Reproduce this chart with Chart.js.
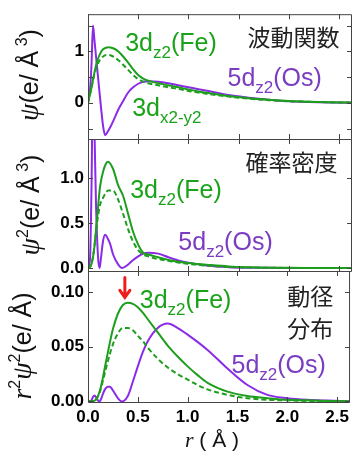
<!DOCTYPE html>
<html>
<head>
<meta charset="utf-8">
<script src="https://cdn.jsdelivr.net/npm/chart.js@4.4.1/dist/chart.umd.min.js"></script>
<style>
  body { margin: 0; background: #fff; }
  #wrap { position: relative; width: 354px; height: 454px; }
  #wrap canvas { position: absolute; left: 0; top: 0; }
</style>
</head>
<body>
<div id="wrap">
  <canvas id="cWave" width="354" height="454"></canvas>
  <canvas id="cProb" width="354" height="454"></canvas>
  <canvas id="cRad" width="354" height="454"></canvas>
</div>
<script>
// r grids (Å)
const rFe = [0, 0.03, 0.06, 0.09, 0.12, 0.15, 0.18, 0.2, 0.25, 0.3, 0.35, 0.4, 0.45, 0.5, 0.55, 0.6, 0.7, 0.8, 0.9, 1.0, 1.1, 1.2, 1.4, 1.6, 1.8, 2.0, 2.2, 2.4, 2.7];
const rOs = [0, 0.02, 0.035, 0.05, 0.065, 0.08, 0.1, 0.115, 0.13, 0.15, 0.17, 0.2, 0.22, 0.25, 0.3, 0.34, 0.4, 0.45, 0.5, 0.55, 0.6, 0.7, 0.8, 0.9, 1.0, 1.2, 1.4, 1.6, 1.8, 2.0, 2.2, 2.4, 2.7];

// wave function psi
const psiFe     = [0, 0.25, 0.55, 0.8, 0.95, 1.04, 1.07, 1.08, 1.06, 1.0, 0.9, 0.78, 0.65, 0.54, 0.47, 0.43, 0.38, 0.34, 0.3, 0.26, 0.22, 0.19, 0.13, 0.09, 0.06, 0.035, 0.02, 0.01, 0];
const psiFeDash = [0, 0.25, 0.52, 0.72, 0.84, 0.9, 0.93, 0.93, 0.9, 0.83, 0.74, 0.64, 0.54, 0.46, 0.41, 0.38, 0.34, 0.3, 0.27, 0.23, 0.2, 0.17, 0.12, 0.08, 0.05, 0.03, 0.02, 0.01, 0];
const psiOs     = [0, 0.25, 0.75, 1.5, 1.2, 0.9, 0.5, 0.2, -0.1, -0.45, -0.63, -0.55, -0.48, -0.36, -0.14, 0, 0.2, 0.3, 0.37, 0.41, 0.42, 0.41, 0.38, 0.34, 0.3, 0.23, 0.15, 0.1, 0.06, 0.03, 0.015, 0.005, 0];

// probability density psi^2
const psi2Fe     = [0, 0.03, 0.2, 0.55, 0.9, 1.07, 1.16, 1.18, 1.1, 0.92, 0.8, 0.6, 0.4, 0.26, 0.17, 0.15, 0.12, 0.09, 0.07, 0.055, 0.045, 0.035, 0.018, 0.009, 0.004, 0.002, 0.001, 0, 0];
const psi2FeDash = [0, 0.03, 0.2, 0.5, 0.7, 0.78, 0.84, 0.86, 0.86, 0.76, 0.6, 0.43, 0.29, 0.2, 0.15, 0.13, 0.1, 0.08, 0.06, 0.045, 0.035, 0.025, 0.012, 0.006, 0.003, 0.001, 0, 0, 0];
const psi2Os     = [0, 0.1, 0.9, 2.2, 1.5, 0.7, 0.12, 0, 0.12, 0.3, 0.37, 0.32, 0.27, 0.15, 0.04, 0, 0.04, 0.09, 0.13, 0.16, 0.17, 0.16, 0.12, 0.085, 0.06, 0.025, 0.01, 0.004, 0.002, 0.001, 0, 0, 0];

// radial distribution r^2 psi^2
const radFe     = [0, 0, 0.0005, 0.003, 0.01, 0.022, 0.036, 0.045, 0.066, 0.08, 0.088, 0.09, 0.089, 0.086, 0.081, 0.075, 0.063, 0.051, 0.041, 0.032, 0.024, 0.017, 0.009, 0.005, 0.003, 0.0015, 0.001, 0.0005, 0];
const radFeDash = [0, 0, 0.0005, 0.003, 0.009, 0.019, 0.03, 0.037, 0.052, 0.062, 0.067, 0.067, 0.065, 0.06, 0.055, 0.049, 0.039, 0.031, 0.025, 0.02, 0.015, 0.011, 0.006, 0.003, 0.0015, 0.001, 0.0005, 0, 0];
const radOs     = [0, 0, 0.001, 0.004, 0.0055, 0.004, 0.001, 0, 0.002, 0.007, 0.011, 0.0135, 0.0135, 0.01, 0.003, 0, 0.005, 0.018, 0.032, 0.045, 0.055, 0.067, 0.071, 0.067, 0.061, 0.047, 0.03, 0.015, 0.006, 0.003, 0.0015, 0.0008, 0];

const GREEN = '#1e9e1e', GREEN_TXT = '#1aa31a', PURPLE = '#8a2be8', PURPLE_TXT = '#7a3cc2', INK = '#222';
const SANS = '"Liberation Sans", Arial, sans-serif';
const SERIF = '"Liberation Serif", "DejaVu Serif", serif';
const JP = '"Noto Sans CJK JP", sans-serif';

function pts(xs, ys) { return xs.map((x, i) => ({ x: x, y: ys[i] })); }

function line(data, color, dash) {
  return {
    data: data, borderColor: color, borderWidth: 2, borderDash: dash || [],
    pointRadius: 0, fill: false, cubicInterpolationMode: 'monotone'
  };
}

function drawParts(ctx, x, y, parts, color) {
  let cx = x;
  parts.forEach(p => {
    ctx.font = p.font;
    ctx.fillStyle = p.color || color;
    ctx.fillText(p.t, cx, y + (p.dy || 0));
    cx += ctx.measureText(p.t).width + (p.gap || 0);
  });
}

function orb(main, sub, tail, size) {
  size = size || 25;
  const parts = [{ t: main, font: size + 'px ' + SANS }, { t: sub, font: Math.round(size * 0.68) + 'px ' + SANS, dy: 7 }];
  if (tail) parts.push({ t: tail, font: size + 'px ' + SANS });
  return parts;
}

const panelDeco = {
  id: 'panelDeco',
  afterDraw(chart, args, opts) {
    const ctx = chart.ctx, a = chart.chartArea, x = chart.scales.x, y = chart.scales.y;
    ctx.save();
    ctx.strokeStyle = '#444';
    ctx.lineWidth = 1;
    ctx.beginPath();
    ctx.moveTo(a.left + 0.5, a.top + 0.5); ctx.lineTo(a.right - 0.5, a.top + 0.5);
    ctx.lineTo(a.right - 0.5, a.bottom + 0.5); ctx.lineTo(a.left + 0.5, a.bottom + 0.5);
    ctx.closePath();
    x.ticks.forEach(t => {
      const px = Math.round(x.getPixelForValue(t.value)) + 0.5;
      ctx.moveTo(px, a.top); ctx.lineTo(px, a.top + 5);
      ctx.moveTo(px, a.bottom); ctx.lineTo(px, a.bottom - 5);
    });
    y.ticks.forEach(t => {
      const py = Math.round(y.getPixelForValue(t.value)) + 0.5;
      ctx.moveTo(a.left, py); ctx.lineTo(a.left + 5, py);
      ctx.moveTo(a.right, py); ctx.lineTo(a.right - 5, py);
    });
    ctx.stroke();

    ctx.textBaseline = 'alphabetic';
    ctx.textAlign = 'left';
    (opts.notes || []).forEach(n => {
      drawParts(ctx, x.getPixelForValue(n.x), y.getPixelForValue(n.y), n.parts, n.color);
    });

    if (opts.arrow) {
      const ax = x.getPixelForValue(opts.arrow.x);
      const y0 = y.getPixelForValue(opts.arrow.from), y1 = y.getPixelForValue(opts.arrow.to);
      ctx.strokeStyle = '#ee1c1c';
      ctx.lineWidth = 3;
      ctx.lineCap = 'round';
      ctx.beginPath();
      ctx.moveTo(ax, y0); ctx.lineTo(ax, y1 - 1);
      ctx.moveTo(ax - 5, y1 - 7); ctx.lineTo(ax, y1); ctx.lineTo(ax + 5, y1 - 7);
      ctx.stroke();
    }

    if (opts.yTitle) {
      const t = opts.yTitle;
      ctx.translate(t.cx, t.cy);
      ctx.rotate(-Math.PI / 2);
      let w = 0;
      t.parts.forEach(p => { ctx.font = p.font; w += ctx.measureText(p.t).width + (p.gap || 0); });
      drawParts(ctx, -w / 2, 8, t.parts, '#111');
      ctx.setTransform(1, 0, 0, 1, 0, 0);
    }
    if (opts.xTitle) {
      const t = opts.xTitle;
      let w = 0;
      t.parts.forEach(p => { ctx.font = p.font; w += ctx.measureText(p.t).width + (p.gap || 0); });
      drawParts(ctx, t.cx - w / 2, t.base, t.parts, '#111');
    }
    ctx.restore();
  }
};

function makePanel(id, cfg) {
  const tickFont = { family: SANS, weight: 'bold', size: 17 };
  return new Chart(document.getElementById(id), {
    type: 'line',
    data: { datasets: cfg.datasets },
    plugins: [panelDeco],
    options: {
      responsive: false,
      devicePixelRatio: 1,
      animation: false,
      events: [],
      layout: { padding: { left: 0, right: 2, top: cfg.top, bottom: cfg.bottom } },
      plugins: {
        legend: { display: false },
        tooltip: { enabled: false },
        panelDeco: { notes: cfg.notes, arrow: cfg.arrow, yTitle: cfg.yTitle, xTitle: cfg.xTitle }
      },
      scales: {
        x: {
          type: 'linear', min: 0, max: 2.63,
          afterFit: s => { s.height = cfg.xHeight; },
          grid: { display: false, drawTicks: false },
          border: { display: false },
          ticks: {
            display: cfg.xLabels, stepSize: 0.5, includeBounds: false, padding: 5,
            color: '#000', font: tickFont, maxRotation: 0,
            callback: v => v.toFixed(1)
          }
        },
        y: {
          min: cfg.yMin, max: cfg.yMax,
          afterFit: s => { s.width = 88; },
          grid: { display: false, drawTicks: false },
          border: { display: false },
          ticks: {
            stepSize: cfg.yStep, includeBounds: false, padding: 4,
            color: '#000', font: tickFont, callback: cfg.yFmt
          }
        }
      }
    }
  });
}

const ital = (t, s) => ({ t: t, font: 'italic ' + s + 'px ' + SERIF });
const up = (t, s, dy) => ({ t: t, font: s + 'px ' + SANS, dy: dy || 0 });
const jp = t => [{ t: t, font: '23px ' + JP }];

makePanel('cWave', {
  top: 8, bottom: 315, xHeight: 0, xLabels: false,
  yMin: -0.704, yMax: 1.722, yStep: 0.5,
  yFmt: v => (v === 0 || v === 1) ? String(v) : '',
  datasets: [
    line(pts(rFe, psiFeDash), GREEN, [5, 3]),
    line(pts(rFe, psiFe), GREEN),
    line(pts(rOs, psiOs), PURPLE)
  ],
  notes: [
    { x: 0.37, y: 1.0, parts: orb('3d', 'z2', '(Fe)'), color: GREEN_TXT },
    { x: 1.39, y: 0.33, parts: orb('5d', 'z2', '(Os)'), color: PURPLE_TXT },
    { x: 0.44, y: -0.26, parts: orb('3d', 'x2-y2'), color: GREEN_TXT },
    { x: 1.59, y: 1.11, parts: jp('波動関数'), color: INK }
  ],
  yTitle: { cx: 30, cy: 75, parts: [ital('ψ', 28), up('(e/ Å', 25), up(' 3', 16, -11), up(')', 25)] }
});

makePanel('cProb', {
  top: 139, bottom: 183, xHeight: 0, xLabels: false,
  yMin: -0.033, yMax: 1.433, yStep: 0.5,
  yFmt: v => v.toFixed(1),
  datasets: [
    line(pts(rFe, psi2FeDash), GREEN, [5, 3]),
    line(pts(rFe, psi2Fe), GREEN),
    line(pts(rOs, psi2Os), PURPLE)
  ],
  notes: [
    { x: 0.42, y: 0.78, parts: orb('3d', 'z2', '(Fe)'), color: GREEN_TXT },
    { x: 0.9, y: 0.2, parts: orb('5d', 'z2', '(Os)'), color: PURPLE_TXT },
    { x: 1.57, y: 1.08, parts: jp('確率密度'), color: INK }
  ],
  yTitle: { cx: 31, cy: 205, parts: [ital('ψ', 28), up('2', 16, -11), up('(e/ Å', 25), up(' 3', 16, -11), up(')', 25)] }
});

makePanel('cRad', {
  top: 271, bottom: 0, xHeight: 52, xLabels: true,
  yMin: -0.0005, yMax: 0.119, yStep: 0.05,
  yFmt: v => v.toFixed(2),
  datasets: [
    line(pts(rFe, radFeDash), GREEN, [5, 3]),
    line(pts(rFe, radFe), GREEN),
    line(pts(rOs, radOs), PURPLE)
  ],
  notes: [
    { x: 0.52, y: 0.0855, parts: orb('3d', 'z2', '(Fe)'), color: GREEN_TXT },
    { x: 1.44, y: 0.026, parts: orb('5d', 'z2', '(Os)'), color: PURPLE_TXT },
    { x: 2.0, y: 0.088, parts: jp('動径'), color: INK },
    { x: 2.0, y: 0.059, parts: jp('分布'), color: INK }
  ],
  arrow: { x: 0.37, from: 0.113, to: 0.095 },
  yTitle: { cx: 23, cy: 346, parts: [ital('r', 28), up('2', 16, -11), ital('ψ', 28), up('2', 16, -11), up('(e/ Å)', 25)] },
  xTitle: { cx: 212, base: 447, parts: [ital('r', 22), up(' ( Å )', 21)] }
});
</script>
</body>
</html>
